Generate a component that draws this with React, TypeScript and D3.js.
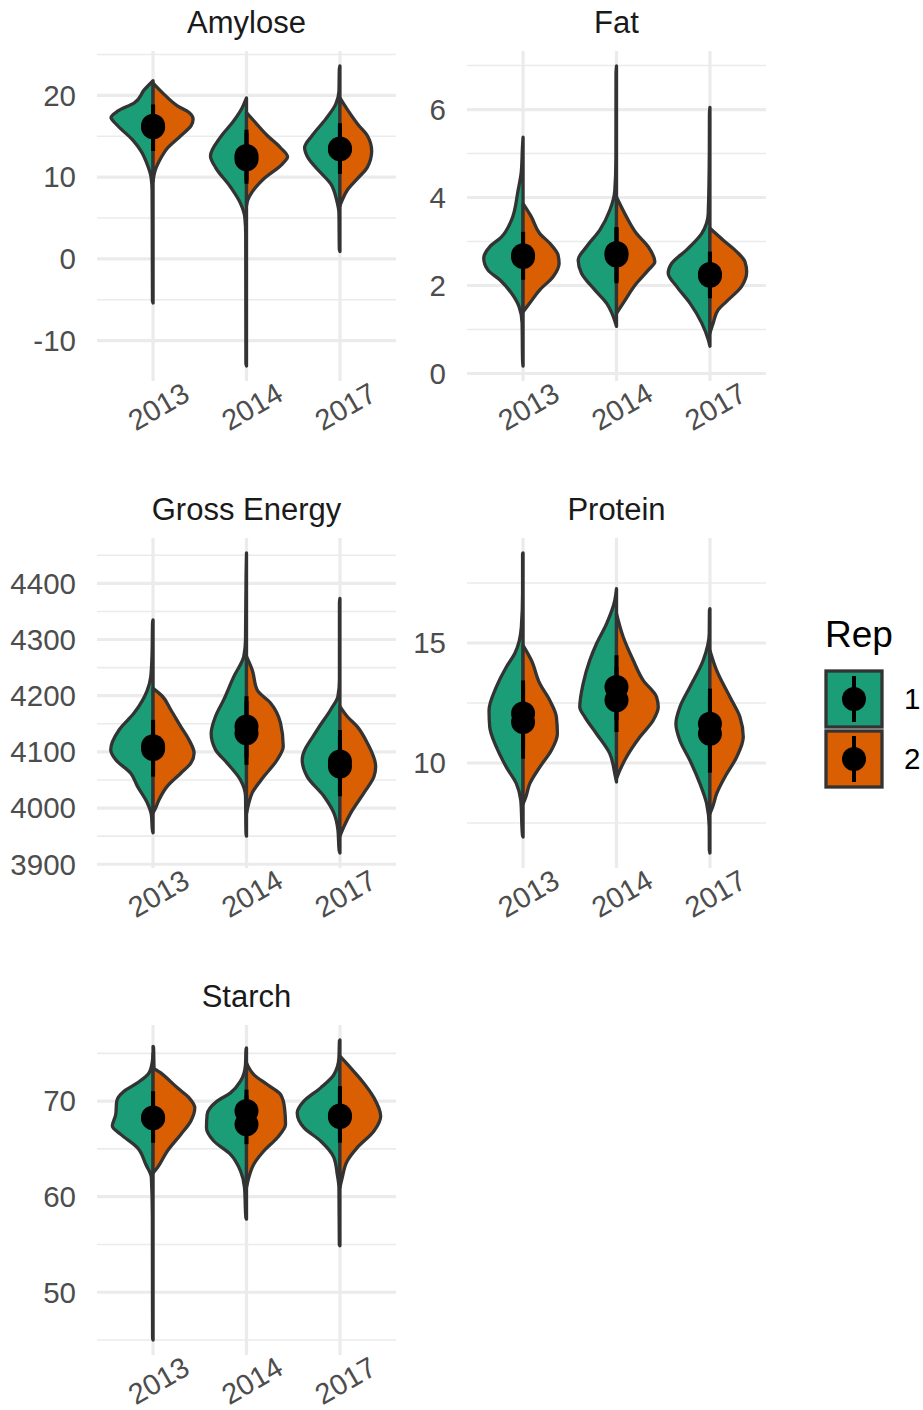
import React from "react";
import * as d3 from "d3";

type Pt = [number, number];
type Half = { year: string; rep: string; pts: Pt[] };
type Sum = { year: string; rep: string; mean: number; lo: number; hi: number };

const years = ["2013", "2014", "2017"];
const reps = ["1", "2"];
const repColors: Record<string, string> = { "1": "#1B9E77", "2": "#D95F02" };

// density profiles: [value, relative half-width density]
const amyloseViolins: Half[] = [
  { year: "2013", rep: "1", pts: [[-5.4, 0], [-5.1, 0.6], [3, 0.8], [8.4, 1], [10.0, 2], [11.4, 5.3], [13.2, 12], [14.5, 20], [16.5, 37], [17.3, 42], [18.1, 35], [19.1, 18.7], [20.7, 8.7], [21.8, 0]] },
  { year: "2013", rep: "2", pts: [[9.5, 0], [10.8, 2], [12.0, 6.3], [13.6, 14.7], [15.1, 28], [16.3, 38], [17.1, 40], [17.9, 36], [18.7, 24.7], [20.1, 11.3], [21.5, 0]] },
  { year: "2014", rep: "1", pts: [[-13.1, 0], [-12.8, 0.6], [3, 0.8], [5.1, 1.7], [6.8, 6], [8.8, 16], [11.2, 31], [12.6, 36], [14.9, 26], [16.9, 12.7], [18.5, 4.3], [19.7, 0]] },
  { year: "2014", rep: "2", pts: [[6.5, 0], [7.2, 1.3], [8.2, 5.7], [9.8, 17.3], [11.6, 35.7], [12.5, 41], [13.6, 34], [15.1, 20.7], [16.9, 7.3], [17.9, 0]] },
  { year: "2017", rep: "1", pts: [[0.9, 0], [1.2, 0.6], [5.6, 1], [7.2, 3.3], [9.2, 9.3], [11.0, 22.7], [12.2, 31], [13.6, 35.3], [15.1, 27.7], [17.1, 14.3], [18.9, 4.3], [20.5, 1], [23.2, 0.6], [23.6, 0]] },
  { year: "2017", rep: "2", pts: [[6.5, 0], [7.2, 2.3], [8.4, 7.3], [9.8, 17.3], [11.2, 27.3], [13.2, 31.7], [15.1, 27.3], [16.3, 19], [18.3, 7.3], [19.7, 0]] },
];

const fatViolins: Half[] = [
  { year: "2013", rep: "1", pts: [[0.17, 0], [0.3, 0.5], [1.15, 1], [1.52, 4], [1.83, 11.7], [2.13, 23.3], [2.35, 35], [2.62, 39.3], [2.88, 33.3], [3.1, 21.7], [3.48, 11.7], [4.16, 5], [4.6, 1.7], [5.2, 0.5], [5.37, 0]] },
  { year: "2013", rep: "2", pts: [[1.4, 0], [1.6, 6.7], [1.9, 16.7], [2.2, 30], [2.5, 36], [2.69, 35], [2.96, 26.7], [3.18, 16.7], [3.56, 8.3], [3.86, 0]] },
  { year: "2014", rep: "1", pts: [[1.07, 0], [1.3, 3.3], [1.6, 10], [1.9, 21.7], [2.28, 35], [2.58, 38.3], [2.88, 30], [3.26, 16.7], [3.71, 6.7], [4.16, 1.7], [4.9, 0.6], [6.8, 0.5], [6.99, 0]] },
  { year: "2014", rep: "2", pts: [[1.37, 0], [1.6, 6.7], [2.05, 20], [2.35, 31.7], [2.54, 38.3], [2.88, 31.7], [3.18, 20], [3.56, 10], [4.01, 0]] },
  { year: "2017", rep: "1", pts: [[0.62, 0], [0.77, 1.7], [1.15, 8.3], [1.6, 20], [1.98, 33.3], [2.28, 41.7], [2.5, 38.3], [2.81, 23.3], [3.18, 8.3], [3.64, 1.7], [5.07, 0.6], [5.9, 0.5], [6.05, 0]] },
  { year: "2017", rep: "2", pts: [[0.92, 0], [1.15, 3.3], [1.45, 8.3], [1.64, 16.7], [1.98, 31.7], [2.31, 36.7], [2.54, 35], [2.77, 26.7], [3.03, 13.3], [3.3, 0]] },
];

const energyViolins: Half[] = [
  { year: "2013", rep: "1", pts: [[3956, 0], [3960, 0.6], [3988, 1.7], [4009, 5.7], [4039, 15.7], [4062, 22.3], [4086, 37.3], [4104, 42.3], [4139, 34], [4169, 19], [4210, 5.7], [4234, 2.3], [4275, 1], [4330, 0.5], [4335, 0]] },
  { year: "2013", rep: "2", pts: [[3992, 0], [3997, 1.7], [4015, 6], [4039, 14.3], [4062, 27.7], [4080, 37.7], [4098, 41], [4121, 36], [4145, 27.7], [4175, 17.7], [4199, 9.3], [4213, 0]] },
  { year: "2014", rep: "1", pts: [[3950, 0], [3955, 0.5], [4021, 1], [4050, 6], [4080, 19.3], [4104, 31], [4133, 35.3], [4163, 31], [4193, 22.7], [4234, 12.7], [4270, 2.7], [4299, 1], [4418, 0.4], [4454, 0]] },
  { year: "2014", rep: "2", pts: [[3990, 0], [4009, 2.3], [4027, 5.7], [4056, 17.3], [4086, 30.7], [4110, 36.7], [4151, 34], [4187, 24], [4210, 10.7], [4246, 5.7], [4270, 0]] },
  { year: "2017", rep: "1", pts: [[3920, 0], [3925, 0.8], [3961, 2], [3991, 6], [4021, 16], [4056, 32.7], [4086, 37.7], [4139, 22.7], [4175, 9.3], [4199, 2], [4228, 0.5], [4365, 0.5], [4373, 0]] },
  { year: "2017", rep: "2", pts: [[3950, 0], [3967, 4], [3991, 10.7], [4027, 24], [4056, 34], [4074, 35.7], [4116, 27.3], [4145, 17.3], [4163, 7.3], [4181, 0]] },
];

const proteinViolins: Half[] = [
  { year: "2013", rep: "1", pts: [[6.92, 0], [7.0, 0.6], [8.44, 2.3], [9.14, 6.7], [9.83, 16.7], [10.67, 26.7], [11.5, 33.3], [12.19, 34], [13.17, 26.7], [14.0, 16.7], [14.56, 8.3], [15.67, 1.7], [17.06, 0.5], [18.7, 0.5], [18.75, 0]] },
  { year: "2013", rep: "2", pts: [[8.3, 0], [8.58, 2.7], [9.14, 6.7], [9.83, 16.7], [10.53, 28.3], [11.22, 34.3], [11.92, 33.3], [12.61, 26.7], [13.31, 16.7], [14.28, 8.3], [14.9, 0]] },
  { year: "2014", rep: "1", pts: [[9.21, 0], [9.56, 1.7], [10.39, 6.7], [11.22, 20], [11.92, 31.7], [12.33, 36.7], [13.31, 33.3], [14.28, 26.7], [14.97, 20], [15.8, 10], [16.78, 1.7], [17.26, 0]] },
  { year: "2014", rep: "2", pts: [[9.35, 0], [9.69, 3.3], [10.25, 10], [11.08, 23.3], [11.78, 36.7], [12.33, 41.7], [12.75, 40], [13.44, 26.7], [14.28, 16.7], [15.25, 6.7], [16.22, 0]] },
  { year: "2017", rep: "1", pts: [[6.25, 0], [6.4, 0.6], [7.33, 0.7], [8.31, 3.3], [9.14, 10], [10.11, 20], [10.94, 30], [11.64, 34], [12.33, 30], [13.17, 20], [14.28, 6.7], [15.39, 0.7], [16.35, 0.5], [16.43, 0]] },
  { year: "2017", rep: "2", pts: [[7.89, 0], [8.17, 2.7], [8.72, 6.7], [9.42, 15], [10.25, 26.7], [11.08, 33.3], [11.92, 30], [12.75, 20], [13.86, 6.7], [14.69, 0]] },
];

const starchViolins: Half[] = [
  { year: "2013", rep: "1", pts: [[45.0, 0], [45.2, 0.5], [58, 0.7], [62.0, 1.7], [63.39, 7.3], [65.13, 15.7], [66.52, 32.3], [67.39, 40.7], [68.61, 37.3], [70.0, 36.3], [71.04, 29], [71.91, 15.7], [72.96, 4], [74.17, 0.7], [75.0, 0]] },
  { year: "2013", rep: "2", pts: [[62.5, 0], [63.04, 4.3], [64.78, 14.3], [66.52, 27.7], [67.91, 37.7], [69.3, 41.7], [70.35, 36], [71.39, 24.3], [72.96, 7.7], [73.48, 1], [75.6, 0.5], [75.74, 0]] },
  { year: "2014", rep: "1", pts: [[57.65, 0], [57.8, 0.6], [60.96, 2], [62.7, 6], [64.43, 16], [65.83, 32.7], [67.22, 40], [68.61, 39.3], [70.0, 29.3], [70.87, 16], [72.09, 6], [73.83, 1], [75.4, 0.5], [75.57, 0]] },
  { year: "2014", rep: "2", pts: [[60.96, 0], [62.0, 2.3], [63.39, 7.3], [64.78, 17.3], [66.17, 30.7], [67.57, 39], [69.3, 38], [70.7, 34], [71.74, 20.7], [72.78, 7.3], [74.0, 0]] },
  { year: "2017", rep: "1", pts: [[54.87, 0], [55.0, 0.6], [60.96, 1], [62.35, 2.7], [64.09, 6], [65.83, 19.3], [67.22, 36], [68.78, 42.7], [70.0, 36], [71.39, 19.3], [72.78, 6], [74.52, 1], [76.3, 0.5], [76.4, 0]] },
  { year: "2017", rep: "2", pts: [[60.96, 0], [62.0, 2.3], [63.74, 7.3], [65.13, 17.3], [66.87, 34], [68.43, 40.7], [70.35, 34], [72.09, 22.3], [73.48, 10.7], [74.7, 0]] },
];

// summary points (centre and range)
const amyloseSummary: Sum[] = [
  { year: "2013", rep: "1", mean: 16.1, lo: 13.3, hi: 18.8 },
  { year: "2013", rep: "2", mean: 16.3, lo: 13.2, hi: 18.9 },
  { year: "2014", rep: "1", mean: 12.2, lo: 9.2, hi: 15.4 },
  { year: "2014", rep: "2", mean: 12.6, lo: 9.6, hi: 15.8 },
  { year: "2017", rep: "1", mean: 13.4, lo: 10.4, hi: 16.4 },
  { year: "2017", rep: "2", mean: 13.5, lo: 10.6, hi: 16.6 },
];
const fatSummary: Sum[] = [
  { year: "2013", rep: "1", mean: 2.65, lo: 2.13, hi: 3.2 },
  { year: "2013", rep: "2", mean: 2.69, lo: 2.15, hi: 3.22 },
  { year: "2014", rep: "1", mean: 2.68, lo: 2.05, hi: 3.3 },
  { year: "2014", rep: "2", mean: 2.74, lo: 2.1, hi: 3.33 },
  { year: "2017", rep: "1", mean: 2.22, lo: 1.71, hi: 2.74 },
  { year: "2017", rep: "2", mean: 2.26, lo: 1.75, hi: 2.77 },
];
const energySummary: Sum[] = [
  { year: "2013", rep: "1", mean: 4105, lo: 4056, hi: 4154 },
  { year: "2013", rep: "2", mean: 4110, lo: 4060, hi: 4157 },
  { year: "2014", rep: "1", mean: 4133, lo: 4077, hi: 4190 },
  { year: "2014", rep: "2", mean: 4145, lo: 4090, hi: 4199 },
  { year: "2017", rep: "1", mean: 4074, lo: 4021, hi: 4128 },
  { year: "2017", rep: "2", mean: 4083, lo: 4030, hi: 4139 },
];
const proteinSummary: Sum[] = [
  { year: "2013", rep: "1", mean: 11.71, lo: 10.18, hi: 13.3 },
  { year: "2013", rep: "2", mean: 12.06, lo: 10.6, hi: 13.44 },
  { year: "2014", rep: "1", mean: 12.61, lo: 11.29, hi: 14.0 },
  { year: "2014", rep: "2", mean: 13.17, lo: 11.8, hi: 14.49 },
  { year: "2017", rep: "1", mean: 11.22, lo: 9.6, hi: 12.8 },
  { year: "2017", rep: "2", mean: 11.64, lo: 10.1, hi: 13.1 },
];
const starchSummary: Sum[] = [
  { year: "2013", rep: "1", mean: 68.2, lo: 65.65, hi: 70.9 },
  { year: "2013", rep: "2", mean: 68.3, lo: 65.8, hi: 71.04 },
  { year: "2014", rep: "1", mean: 67.57, lo: 65.5, hi: 70.6 },
  { year: "2014", rep: "2", mean: 68.96, lo: 66.5, hi: 71.2 },
  { year: "2017", rep: "1", mean: 68.35, lo: 65.65, hi: 71.3 },
  { year: "2017", rep: "2", mean: 68.5, lo: 65.9, hi: 71.57 },
];

const amyloseTicks = [-10, 0, 10, 20];
const fatTicks = [0, 2, 4, 6];
const energyTicks = [3900, 4000, 4100, 4200, 4300, 4400];
const proteinTicks = [10, 15];
const starchTicks = [50, 60, 70];

const panelTitles = ["Amylose", "Fat", "Gross Energy", "Protein", "Starch"];

const FONT = "'Liberation Sans', Arial, Helvetica, sans-serif";
const PANEL_W = 299;
const PANEL_H = 330;
const COL_LEFT = [97, 467];
const ROW_TOP = [51, 538, 1025];
const DMAX = 42;

type PanelProps = {
  title: string;
  violins: Half[];
  summary: Sum[];
  ticks: number[];
  left: number;
  top: number;
};

function Panel({ title, violins, summary, ticks, left, top }: PanelProps) {
  const x = d3.scalePoint<string>().domain(years).range([left, left + PANEL_W]).padding(0.6);
  const all = violins.flatMap((v) => v.pts.map((p) => p[0]));
  const [mn, mx] = d3.extent(all) as [number, number];
  const pad = (mx - mn) * 0.05;
  const y = d3.scaleLinear().domain([mn - pad, mx + pad]).range([top + PANEL_H, top]);
  const dens = d3.scaleLinear().domain([0, DMAX]).range([0, 0.45 * x.step()]);

  const step = ticks[1] - ticks[0];
  const minors: number[] = [];
  for (let v = ticks[0] - step / 2; v <= ticks[ticks.length - 1] + step; v += step) {
    if (v >= y.domain()[0] && v <= y.domain()[1]) minors.push(v);
  }
  const majors = ticks.filter((t) => t >= y.domain()[0] && t <= y.domain()[1]);

  const halfPath = (h: Half) => {
    const cx = x(h.year) as number;
    const sign = h.rep === "1" ? -1 : 1;
    const pts = h.pts.slice().sort((a, b) => b[0] - a[0]);
    const area = d3
      .area<Pt>()
      .y((d) => y(d[0]))
      .x0(cx)
      .x1((d) => cx + sign * dens(d[1]))
      .curve(d3.curveMonotoneY);
    return area(pts) || "";
  };

  return (
    <g>
      <text
        x={left + PANEL_W / 2}
        y={top - 18}
        textAnchor="middle"
        fontFamily={FONT}
        fontSize={31}
        fill="#1A1A1A"
      >
        {title}
      </text>
      {minors.map((m) => (
        <line key={"mn" + m} x1={left} x2={left + PANEL_W} y1={y(m)} y2={y(m)} stroke="#EBEBEB" strokeWidth={1.6} />
      ))}
      {majors.map((m) => (
        <line key={"mj" + m} x1={left} x2={left + PANEL_W} y1={y(m)} y2={y(m)} stroke="#EBEBEB" strokeWidth={3.2} />
      ))}
      {years.map((yr) => (
        <line key={"vx" + yr} x1={x(yr)} x2={x(yr)} y1={top} y2={top + PANEL_H} stroke="#EBEBEB" strokeWidth={3.2} />
      ))}
      {majors.map((m) => (
        <text
          key={"tl" + m}
          x={left - 21}
          y={y(m)}
          dy="0.35em"
          textAnchor="end"
          fontFamily={FONT}
          fontSize={29.5}
          fill="#4D4D4D"
        >
          {m}
        </text>
      ))}
      {years.map((yr) => {
        const tx = (x(yr) as number) + 5.5;
        const ty = top + PANEL_H + 25.5;
        return (
          <text
            key={"xl" + yr}
            x={tx}
            y={ty}
            dy="0.35em"
            textAnchor="middle"
            fontFamily={FONT}
            fontSize={29}
            fill="#4D4D4D"
            transform={`rotate(-30 ${tx} ${ty})`}
          >
            {yr}
          </text>
        );
      })}
      {years.map((yr) =>
        reps.map((rp) => {
          const h = violins.find((v) => v.year === yr && v.rep === rp);
          if (!h) return null;
          return (
            <path
              key={"v" + yr + rp}
              d={halfPath(h)}
              fill={repColors[rp]}
              stroke="#333333"
              strokeWidth={3.3}
              strokeLinejoin="round"
            />
          );
        })
      )}
      {summary.map((s) => (
        <g key={"s" + s.year + s.rep}>
          <line x1={x(s.year)} x2={x(s.year)} y1={y(s.lo)} y2={y(s.hi)} stroke="#000" strokeWidth={4} />
          <circle cx={x(s.year)} cy={y(s.mean)} r={12} fill="#000" />
        </g>
      ))}
    </g>
  );
}

export default function App() {
  const panels = [
    { title: panelTitles[0], violins: amyloseViolins, summary: amyloseSummary, ticks: amyloseTicks, col: 0, row: 0 },
    { title: panelTitles[1], violins: fatViolins, summary: fatSummary, ticks: fatTicks, col: 1, row: 0 },
    { title: panelTitles[2], violins: energyViolins, summary: energySummary, ticks: energyTicks, col: 0, row: 1 },
    { title: panelTitles[3], violins: proteinViolins, summary: proteinSummary, ticks: proteinTicks, col: 1, row: 1 },
    { title: panelTitles[4], violins: starchViolins, summary: starchSummary, ticks: starchTicks, col: 0, row: 2 },
  ];
  const keyX = 826;
  const keyY0 = 671;
  const keyS = 56;
  return (
    <svg
      width={923}
      height={1410}
      style={{ position: "absolute", left: 0, top: 0, background: "#fff" }}
    >
      <rect width={923} height={1410} fill="#fff" />
      {panels.map((p) => (
        <Panel
          key={p.title}
          title={p.title}
          violins={p.violins}
          summary={p.summary}
          ticks={p.ticks}
          left={COL_LEFT[p.col]}
          top={ROW_TOP[p.row]}
        />
      ))}
      <text x={825} y={647} fontFamily={FONT} fontSize={37} fill="#000">
        Rep
      </text>
      {reps.map((rp, i) => {
        const ky = keyY0 + i * (keyS + 4);
        const cx = keyX + keyS / 2;
        const cy = ky + keyS / 2;
        return (
          <g key={"k" + rp}>
            <rect x={keyX} y={ky} width={keyS} height={keyS} fill={repColors[rp]} stroke="#333333" strokeWidth={3.3} />
            <line x1={cx} x2={cx} y1={ky + 5} y2={ky + keyS - 5} stroke="#000" strokeWidth={4} />
            <circle cx={cx} cy={cy} r={12} fill="#000" />
            <text x={904} y={cy} dy="0.35em" fontFamily={FONT} fontSize={29.5} fill="#000">
              {rp}
            </text>
          </g>
        );
      })}
    </svg>
  );
}
